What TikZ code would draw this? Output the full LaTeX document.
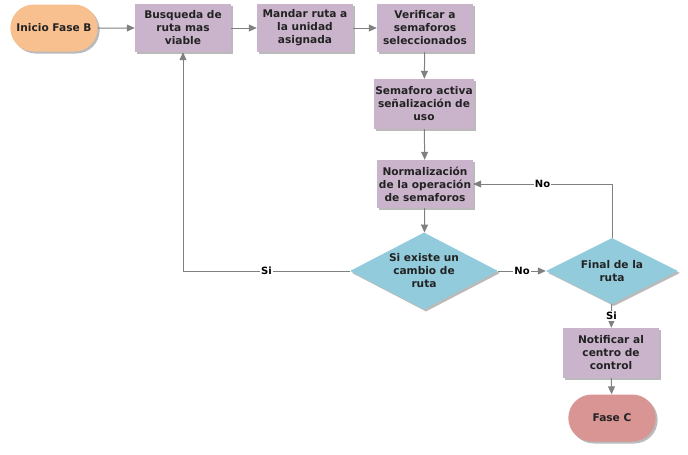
\documentclass[tikz,border=0pt]{standalone}
\usepackage{fontspec}
\setmainfont{DejaVu Sans}
\usetikzlibrary{arrows.meta}
\usetikzlibrary{positioning, shapes.geometric, shapes.misc, shadows}
\definecolor{taskfill}{RGB}{202,180,204}
\definecolor{decisionfill}{RGB}{146,204,220}
\definecolor{startfill}{RGB}{249,192,143}
\definecolor{endfill}{RGB}{217,148,148}
\definecolor{flowgray}{RGB}{128,128,128}
\definecolor{textgray}{RGB}{34,34,34}
\tikzset{
task/.style = { rectangle, draw = none, fill = taskfill, minimum width = 96pt, minimum height = 48pt, inner sep = 0pt, align = center, text = textgray, font = \bfseries\fontsize{10.6}{13}\selectfont, drop shadow = {shadow xshift = 2pt, shadow yshift = -2pt, fill = black!45, opacity = 0.6} },
decision/.style = { diamond, aspect = 2, draw = none, fill = decisionfill, inner sep = 0pt, align = center, text = textgray, font = \bfseries\fontsize{10.6}{13}\selectfont, drop shadow = {shadow xshift = 2pt, shadow yshift = -2pt, fill = black!45, opacity = 0.6} },
terminal/.style = { rounded rectangle, draw = none, minimum width = 94pt, minimum height = 47pt, align = center, text = textgray, font = \bfseries\fontsize{10.6}{13}\selectfont, drop shadow = {shadow xshift = 2pt, shadow yshift = -2pt, fill = black!45, opacity = 0.6} },
flow/.style = { draw = flowgray, line width = 1pt, -{Triangle[length = 8pt, width = 7pt]} },
answer/.style = { fill = white, inner sep = 1pt, text = black, font = \bfseries\fontsize{10}{11}\selectfont }
}

\begin{document}
\begin{tikzpicture}[x = 1pt, y = -1pt]
    \useasboundingbox (0, 0) rectangle (688, 455);
    % first row
    \node[terminal, fill = startfill] (inicio) at (54, 28) {Inicio Fase B};
    \node[task] (busqueda) at (183, 28) {Busqueda de\\ruta mas\\viable};
    \node[task] (mandar) at (305, 28) {Mandar ruta a\\la unidad\\asignada};
    \node[task] (verificar) at (425, 28) {Verificar a\\semaforos\\seleccionados};
    % middle column
    \node[task, minimum width = 100pt, minimum height = 50pt] (activa) at (424, 104) {Semaforo activa\\señalización de\\uso};
    \node[task] (normal) at (425, 184) {Normalización\\de la operación\\de semaforos};
    \node[decision, minimum width = 148pt, minimum height = 77pt] (cambio) at (424, 271) {Si existe un\\cambio de\\ruta};
    % right column
    \node[decision, minimum width = 132pt, minimum height = 66pt] (final) at (612, 271) {Final de la\\ruta};
    \node[task, minimum height = 50pt] (notificar) at (611, 353) {Notificar al\\centro de\\control};
    \node[terminal, fill = endfill] (fasec) at (612, 418) {Fase C};
    % connectors
    \draw[flow] (inicio) -- (busqueda);
    \draw[flow] (busqueda) -- (mandar);
    \draw[flow] (mandar) -- (verificar);
    \draw[flow] (verificar) -- (activa);
    \draw[flow] (activa) -- (normal);
    \draw[flow] (normal) -- (cambio);
    \draw[flow] (cambio.west) -| node[answer, pos = 0.25] {Si} (busqueda.south);
    \draw[flow] (cambio) -- node[answer] {No} (final);
    \draw[flow] (final.north) |- node[answer, pos = 0.75] {No} (normal.east);
    \draw[flow] (final) -- node[answer] {Si} (notificar);
    \draw[flow] (notificar) -- (fasec);
\end{tikzpicture}
\end{document}
